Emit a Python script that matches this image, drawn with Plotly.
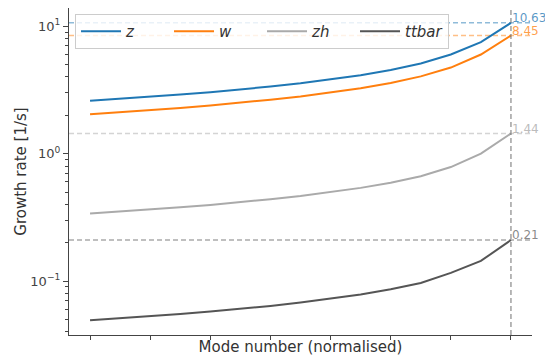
import math
import plotly.graph_objects as go

# ---- data ----
mode = [i / 14 for i in range(15)]  # normalised mode number
series_names = ["z", "w", "zh", "ttbar"]
z_vals = [2.60, 2.69, 2.79, 2.91, 3.04, 3.19, 3.36, 3.57, 3.82, 4.13, 4.54, 5.10, 6.00, 7.50, 10.63]
w_vals = [2.04, 2.11, 2.19, 2.28, 2.39, 2.51, 2.65, 2.81, 3.01, 3.26, 3.58, 4.04, 4.74, 6.00, 8.45]
zh_vals = [0.339, 0.351, 0.364, 0.379, 0.396, 0.416, 0.439, 0.466, 0.498, 0.539, 0.592, 0.665, 0.785, 1.00, 1.44]
ttbar_vals = [0.0494, 0.0511, 0.0531, 0.0553, 0.0578, 0.0606, 0.0639, 0.0679, 0.0726, 0.0785, 0.0862, 0.0966, 0.116, 0.144, 0.21]
x_ticks = [i / 7 for i in range(8)]
y_ticks = [0.1, 1, 10]
y_tick_text = ["10<sup>−1</sup>", "10<sup>0</sup>", "10<sup>1</sup>"]

all_vals = [z_vals, w_vals, zh_vals, ttbar_vals]
colors = ["#1f77b4", "#ff7f0e", "#aaaaaa", "#555555"]
dash_colors = ["rgba(31,119,180,0.5)", "rgba(255,127,14,0.5)", "rgba(170,170,170,0.5)", "rgba(85,85,85,0.5)"]
text_colors = ["rgba(31,119,180,0.75)", "rgba(255,127,14,0.75)", "rgba(170,170,170,0.8)", "rgba(85,85,85,0.7)"]

xr = [-0.05, 1.05]
lo = math.log10(min(ttbar_vals)); hi = math.log10(max(z_vals))
pad = 0.05 * (hi - lo)
yr = [lo - pad, hi + pad]

fig = go.Figure()
for name, vals, dc in zip(series_names, all_vals, dash_colors):
    fig.add_trace(go.Scatter(x=xr, y=[vals[-1], vals[-1]], mode="lines",
                             line=dict(color=dc, width=1.5, dash="5px,3px"),
                             showlegend=False, hoverinfo="skip"))
for name, vals, c in zip(series_names, all_vals, colors):
    fig.add_trace(go.Scatter(x=mode, y=vals, mode="lines", name=f"<i>{name}</i>",
                             line=dict(color=c, width=2)))

fig.add_vline(x=mode[-1], line=dict(color="rgba(120,120,120,0.7)", width=1.5, dash="5px,3px"))

for vals, tc in zip(all_vals, text_colors):
    fig.add_annotation(x=mode[-1], y=math.log10(vals[-1]), text=f"{vals[-1]:.2f}",
                       showarrow=False, xanchor="left", yanchor="middle", yshift=5, xshift=-1,
                       font=dict(size=12, color=tc, family="DejaVu Sans"))

fig.update_layout(
    width=545, height=360,
    margin=dict(l=69, r=13, t=8, b=25),
    plot_bgcolor="white", paper_bgcolor="white",
    font=dict(family="DejaVu Sans", color="#444444"),
    showlegend=True,
    legend=dict(orientation="h", x=0.013, y=0.982, xanchor="left", yanchor="top",
                bgcolor="rgba(255,255,255,0.8)", bordercolor="#cccccc", borderwidth=1,
                font=dict(size=15, color="#333333", family="DejaVu Sans"),
                entrywidth=38, entrywidthmode="pixels", itemwidth=40),
)
fig.update_xaxes(range=xr, showgrid=False, zeroline=False, showline=True, linecolor="#444444",
                 linewidth=1.2, ticks="outside", ticklen=4, tickcolor="#444444",
                 tickvals=x_ticks, showticklabels=False,
                 title=dict(text="Mode number (normalised)", font=dict(size=15, color="#333333"), standoff=2))
minor_vals = [m * 10 ** e for e in (-2, -1, 0) for m in range(2, 10)]
fig.update_yaxes(type="log", range=yr, showgrid=False, zeroline=False, showline=True,
                 linecolor="#444444", linewidth=1.2, ticks="outside", ticklen=5, tickcolor="#444444",
                 tickvals=y_ticks, ticktext=y_tick_text, tickfont=dict(size=13, color="#444444"),
                 minor=dict(ticks="outside", ticklen=3, tickcolor="#444444", tickvals=minor_vals),
                 title=dict(text="Growth rate [1/s]", font=dict(size=15, color="#333333"), standoff=0))

fig.write_html("out.html")
